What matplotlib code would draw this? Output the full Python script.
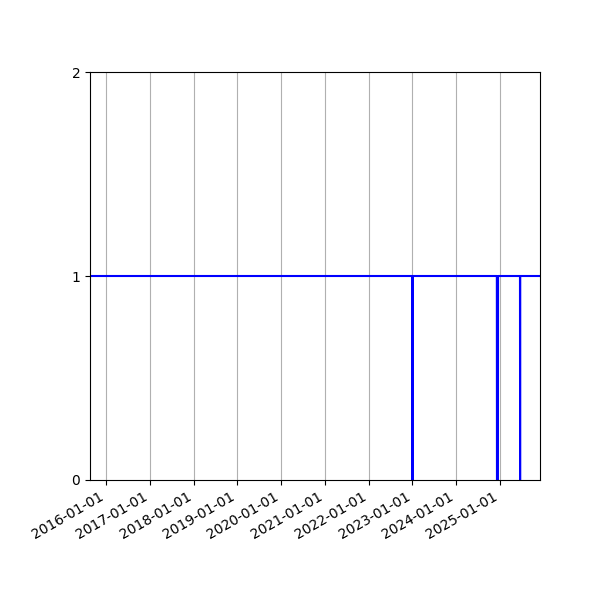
import matplotlib
matplotlib.use("Agg")
import matplotlib.pyplot as plt
import matplotlib.dates as mdates
import numpy as np

dates = ["2015-08-21", "2022-12-31", "2023-01-01", "2023-01-02",
         "2024-12-05", "2024-12-06", "2024-12-14", "2024-12-15",
         "2025-06-16", "2025-06-17", "2025-06-18", "2025-11-30"]
values = [1, 1, 0, 1, 1, 0, 0, 1, 1, 0, 1, 1]

x = np.array(dates, dtype="datetime64[D]")

fig, ax = plt.subplots(figsize=(6, 6), dpi=100)
fig.subplots_adjust(left=0.15, right=0.9, top=0.88, bottom=0.2)
ax.plot(x, values, color="blue", linewidth=1.5)
ax.set_xlim(x[0], x[-1])
ax.set_ylim(0, 2)
ax.set_yticks([0, 1, 2])
ax.xaxis.set_major_locator(mdates.YearLocator())
ax.xaxis.set_major_formatter(mdates.DateFormatter("%Y-%m-%d"))
ax.grid(True, axis="x")
for lbl in ax.get_xticklabels():
    lbl.set_rotation(30)
    lbl.set_ha("right")
fig.savefig("out.png", dpi=100)
